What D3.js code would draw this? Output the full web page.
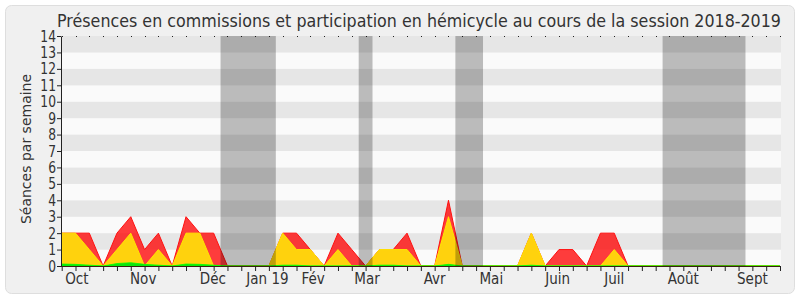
<!DOCTYPE html>
<html>
<head>
<meta charset="utf-8">
<script src="https://cdn.jsdelivr.net/npm/d3@7"></script>
<style>
  body { margin: 0; background: #fff; }
  text { font-family: "DejaVu Sans", sans-serif; fill: #333; }
</style>
</head>
<body>
<svg id="chart" width="800" height="300"></svg>
<script>
// weekly data, session 2018-2019 (53 weeks)
const presences = [2, 2, 2, 0, 2, 3, 1, 2, 0, 3, 2, 2, 0, 0, 0, 0, 2, 2, 1, 0, 2, 1, 0, 1, 1, 2, 0, 0, 4, 0, 0, 0, 0, 0, 2, 0, 1, 1, 0, 2, 2, 0, 0, 0, 0, 0, 0, 0, 0, 0, 0, 0, 0]
const hemicycle = [2, 2, 1, 0, 1, 2, 0, 1, 0, 2, 2, 0, 0, 0, 0, 0, 2, 1, 1, 0, 1, 0, 0, 1, 1, 1, 0, 0, 3, 0, 0, 0, 0, 0, 2, 0, 0, 0, 0, 0, 1, 0, 0, 0, 0, 0, 0, 0, 0, 0, 0, 0, 0]
const interventions = [0.12, 0.1, 0.05, 0, 0.15, 0.2, 0.1, 0.05, 0, 0.12, 0.1, 0.05, 0, 0, 0, 0, 0.05, 0.05, 0, 0, 0, 0, 0, 0.05, 0.05, 0, 0, 0, 0.1, 0, 0, 0, 0, 0, 0.05, 0, 0, 0, 0, 0, 0, 0, 0, 0, 0, 0, 0, 0, 0, 0, 0, 0, 0]

// vacation periods (week index start/end)
const vacances = [[11.5, 15.5], [21.5, 22.5], [28.5, 30.5], [43.5, 49.5]]

const monthLabels = ['Oct', 'Nov', 'Déc', 'Jan 19', 'Fév', 'Mar', 'Avr', 'Mai', 'Juin', 'Juil', 'Août', 'Sept']
const monthWeeks = [1.1, 5.9, 10.95, 14.9, 18.2, 22.1, 27.0, 31.1, 35.9, 40.0, 45.0, 50.0]

const yTicks = d3.range(0, 15)

const svg = d3.select('#chart')
const sx = 0.82 // horizontal squeeze of the lettering

// panel
svg.append('rect')
    .attr('x', 5.5).attr('y', 5.5)
    .attr('width', 789).attr('height', 288)
    .attr('rx', 6)
    .attr('fill', '#f0f0f0')
    .attr('stroke', '#dedede')

const x = d3.scaleLinear().domain([0, 52]).range([61.7, 780])
const y = d3.scaleLinear().domain([0, 14]).range([266, 36])

// stripes
svg.append('g').selectAll('rect')
    .data(d3.range(0, 14))
    .enter()
    .append('rect')
    .attr('x', 61)
    .attr('width', 720)
    .attr('y', (d) => y(d + 1))
    .attr('height', (d) => y(d) - y(d + 1))
    .attr('fill', (d) => d % 2 === 1 ? '#e6e6e6' : '#fafafa')

// top dotted line
svg.append('g').selectAll('rect')
    .data(d3.range(0, 53))
    .enter()
    .append('rect')
    .attr('x', (d) => Math.round(x(d)))
    .attr('y', y(14))
    .attr('width', 1)
    .attr('height', 1)
    .attr('fill', '#222')

const area = (values) => d3.area()
    .x((d, i) => x(i))
    .y0(y(0))
    .y1((d) => y(d))(values)

svg.append('path')
    .attr('d', area(presences))
    .attr('fill', 'rgba(255,0,0,0.76)')
    .attr('stroke', '#ff1010')
    .attr('stroke-width', 1)

svg.append('path')
    .attr('d', area(hemicycle))
    .attr('fill', '#ffd20d')
    .attr('stroke', '#ffe600')
    .attr('stroke-width', 1)

svg.append('path')
    .attr('d', area(interventions))
    .attr('fill', '#10e010')
    .attr('stroke', '#00ff00')
    .attr('stroke-width', 0.8)

// vacation bands
svg.append('g').selectAll('rect')
    .data(vacances)
    .enter()
    .append('rect')
    .attr('x', (d) => x(d[0]))
    .attr('width', (d) => x(d[1]) - x(d[0]))
    .attr('y', y(14))
    .attr('height', y(0) - y(14))
    .attr('fill', 'rgba(0,0,0,0.25)')

// axes
const xAxis = svg.append('g')
    .attr('transform', `translate(0,${y(0)})`)
    .call(d3.axisBottom(x).tickValues(d3.range(0, 53)).tickFormat('').tickSize(5).tickSizeOuter(0))
xAxis.select('.domain').attr('stroke', '#3a2010').attr('d', `M61,0.5H781`)
xAxis.selectAll('.tick line').attr('stroke', '#222')

const yAxis = svg.append('g')
    .attr('transform', 'translate(61,0)')
    .call(d3.axisLeft(y).tickValues(yTicks).tickSize(4).tickSizeOuter(0).tickFormat(''))
yAxis.select('.domain').attr('stroke', '#222')
yAxis.selectAll('.tick line').attr('stroke', '#222')

svg.append('g').selectAll('text')
    .data(yTicks)
    .enter()
    .append('text')
    .attr('transform', (d) => `translate(56,${y(d) + 5.5}) scale(${sx},1)`)
    .attr('text-anchor', 'end')
    .attr('font-size', 15)
    .text((d) => d)

svg.append('g').selectAll('text')
    .data(monthLabels)
    .enter()
    .append('text')
    .attr('transform', (d, i) => `translate(${x(monthWeeks[i])},284) scale(${sx},1)`)
    .attr('text-anchor', 'middle')
    .attr('font-size', 16.5)
    .text((d) => d)

// title
svg.append('text')
    .attr('transform', 'translate(419,27) scale(0.86,1)')
    .attr('text-anchor', 'middle')
    .attr('font-size', 18.5)
    .text('Présences en commissions et participation en hémicycle au cours de la session 2018-2019')

svg.append('text')
    .attr('transform', 'translate(31,149) rotate(-90)')
    .attr('text-anchor', 'middle')
    .attr('font-size', 14)
    .text('Séances par semaine')
</script>
</body>
</html>
